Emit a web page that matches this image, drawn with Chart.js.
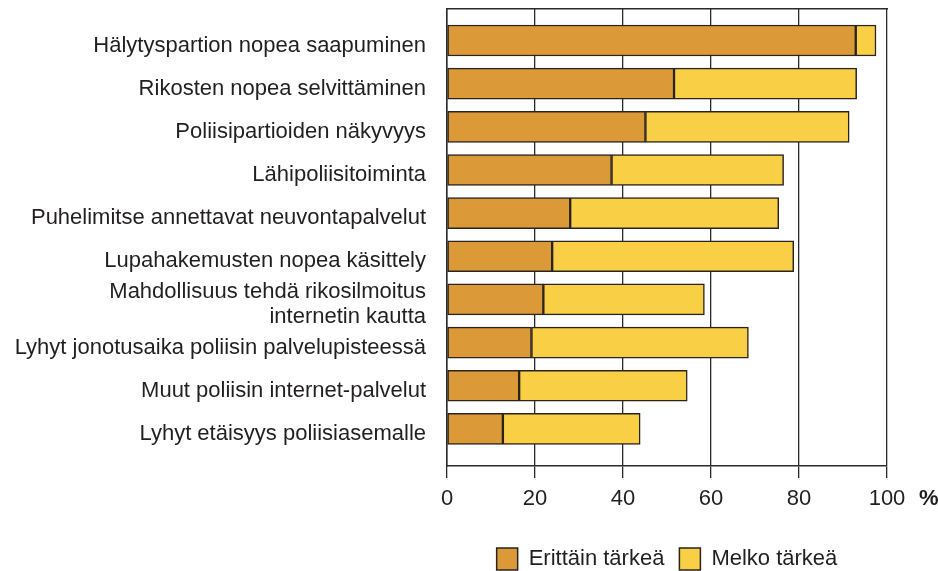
<!DOCTYPE html>
<html lang="fi">
<head>
<meta charset="UTF-8">
<title>Poliisin palvelut</title>
<script src="https://cdn.jsdelivr.net/npm/chart.js"></script>
<style>
  html, body { margin: 0; padding: 0; background: #fff; }
  #wrap { width: 938px; height: 571px; }
</style>
</head>
<body>
<div id="wrap"><canvas id="chart"></canvas></div>
<script>
  const categories = [
    "Hälytyspartion nopea saapuminen",
    "Rikosten nopea selvittäminen",
    "Poliisipartioiden näkyvyys",
    "Lähipoliisitoiminta",
    "Puhelimitse annettavat neuvontapalvelut",
    "Lupahakemusten nopea käsittely",
    ["Mahdollisuus tehdä rikosilmoitus", "internetin kautta"],
    "Lyhyt jonotusaika poliisin palvelupisteessä",
    "Muut poliisin internet-palvelut",
    "Lyhyt etäisyys poliisiasemalle"
  ];
  const erittainTarkea = [92.9, 51.6, 45.1, 37.4, 28.0, 23.9, 21.9, 19.2, 16.4, 12.7];
  const melkoTarkea = [4.6, 41.5, 46.3, 39.1, 47.4, 54.9, 36.6, 49.3, 38.2, 31.2];
  const xTicks = [0, 20, 40, 60, 80, 100];

  const FONT = "'Liberation Sans', Arial, Helvetica, sans-serif";
  const INK = "#231f20";

  // "%" unit label next to the 100 tick
  const unitLabel = {
    id: "unitLabel",
    afterDraw(chart) {
      const x = chart.scales.x;
      const ctx = chart.ctx;
      ctx.save();
      ctx.font = "bold 22px " + FONT;
      ctx.fillStyle = INK;
      ctx.textAlign = "left";
      ctx.textBaseline = "middle";
      ctx.fillText("%", x.getPixelForValue(100) + 32, x.top + 33);
      ctx.restore();
    }
  };

  const toPoints = arr => arr.map((v, i) => ({ x: v, y: i }));

  new Chart(document.getElementById("chart"), {
    type: "bar",
    data: {
      datasets: [
        {
          label: "Erittäin tärkeä",
          data: toPoints(erittainTarkea),
          backgroundColor: "#db9937",
          borderColor: "#2a2420",
          borderWidth: 1.5,
          borderSkipped: false,
          barThickness: 31
        },
        {
          label: "Melko tärkeä",
          data: toPoints(melkoTarkea),
          backgroundColor: "#f9cf45",
          borderColor: "#2a2420",
          borderWidth: 1.5,
          borderSkipped: false,
          barThickness: 31
        }
      ]
    },
    options: {
      indexAxis: "y",
      responsive: true,
      maintainAspectRatio: false,
      animation: false,
      layout: { padding: { top: 9, right: 51, left: 0, bottom: -9 } },
      plugins: {
        tooltip: { enabled: false },
        legend: {
          position: "bottom",
          fullSize: false,
          labels: {
            font: { family: FONT, size: 22 },
            color: INK,
            boxWidth: 21,
            boxHeight: 22,
            padding: 15
          }
        }
      },
      scales: {
        x: {
          type: "linear",
          stacked: true,
          min: 0,
          max: 100,
          afterBuildTicks: s => { s.ticks = xTicks.map(v => ({ value: v })); },
          afterFit: s => { s.height = 67; s.paddingLeft = 0; s.paddingRight = 0; },
          grid: { color: "#2b2b2b", lineWidth: 1.3, tickLength: 12, drawTicks: true },
          border: { display: true, color: "#2b2b2b", width: 1.5 },
          ticks: { font: { family: FONT, size: 22 }, color: INK, padding: 8, maxRotation: 0 }
        },
        x2: {
          type: "linear",
          position: "top",
          min: 0,
          max: 100,
          afterFit: s => { s.height = 0; },
          grid: { display: false, drawTicks: false },
          border: { display: true, color: "#2b2b2b", width: 1.5 },
          ticks: { display: false }
        },
        y: {
          type: "linear",
          stacked: true,
          reverse: true,
          offset: false,
          min: -0.73,
          max: 9.86,
          afterBuildTicks: s => { s.ticks = categories.map((_, i) => ({ value: i })); },
          afterFit: s => { s.width = 447; s.paddingTop = 0; s.paddingBottom = 0; },
          grid: { display: false, drawTicks: false, offset: false },
          border: { display: true, color: "#2b2b2b", width: 1.5 },
          ticks: {
            font: { family: FONT, size: 22, lineHeight: 1.1 },
            color: INK,
            padding: 21,
            labelOffset: 5,
            autoSkip: false,
            callback: v => categories[v]
          }
        }
      }
    },
    plugins: [unitLabel]
  });
</script>
</body>
</html>
